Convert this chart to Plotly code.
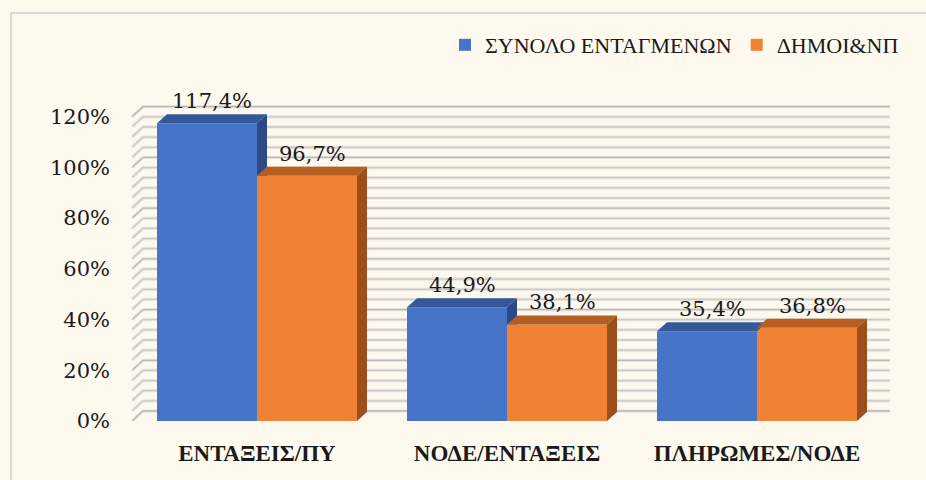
import plotly.graph_objects as go

# --- data -------------------------------------------------------------
categories = ["ΕΝΤΑΞΕΙΣ/ΠΥ", "ΝΟΔΕ/ΕΝΤΑΞΕΙΣ", "ΠΛΗΡΩΜΕΣ/ΝΟΔΕ"]
series_names = ["ΣΥΝΟΛΟ ΕΝΤΑΓΜΕΝΩΝ", "ΔΗΜΟΙ&ΝΠ"]
total_integrated = [117.4, 44.9, 35.4]
municipalities = [96.7, 38.1, 36.8]
y_tickvals = [0, 20, 40, 60, 80, 100, 120]
y_ticktext = ["0%", "20%", "40%", "60%", "80%", "100%", "120%"]
minor_step = 4

series_values = [total_integrated, municipalities]

# --- styling ----------------------------------------------------------
front_colors = ["#4674C7", "#EF8235"]
top_colors = ["#345898", "#B65D22"]
side_colors = ["#2B4A86", "#9A4F1D"]
bg = "#FDF9EE"
serif = "Liberation Serif"
num_font = "DejaVu Serif"

BAR_W = 0.4          # width of each column (category units)
DX, DY = 0.04, 3.55  # column depth projection (x units, y units)
WX, WY = 0.044, 3.94  # back-wall offset for the gridlines
X_LEFT, X_WALL_END = -0.5, 2.532

fig = go.Figure()

# front faces of the columns
for k, (name, vals) in enumerate(zip(series_names, series_values)):
    fig.add_trace(go.Bar(
        x=list(range(len(categories))), y=vals, name=name,
        marker=dict(color=front_colors[k], line=dict(width=0)),
        hoverinfo="skip",
    ))

# top and side faces, drawn series by series so the right-hand column
# of each pair overlaps the one on its left
for k, vals in enumerate(series_values):
    for i, v in enumerate(vals):
        x0 = i - BAR_W + BAR_W * k
        x1 = x0 + BAR_W
        fig.add_trace(go.Scatter(
            x=[x0, x1, x1 + DX, x0 + DX, x0], y=[v, v, v + DY, v + DY, v],
            fill="toself", fillcolor=top_colors[k], mode="none",
            showlegend=False, hoverinfo="skip"))
        if k + 1 < len(series_values):
            lo = series_values[k + 1][i]
            if lo >= v:
                continue
            sx = [x1, x1 + DX, x1 + DX, x1, x1]
            sy = [lo, lo, v + DY, v, lo]
        else:
            sx = [x1, x1 + DX, x1 + DX, x1, x1]
            sy = [0, DY, v + DY, v, 0]
        fig.add_trace(go.Scatter(
            x=sx, y=sy, fill="toself", fillcolor=side_colors[k], mode="none",
            showlegend=False, hoverinfo="skip"))

# value labels above each column
for k, vals in enumerate(series_values):
    for i, v in enumerate(vals):
        xc = i - BAR_W / 2 + BAR_W * k
        fig.add_annotation(
            x=xc + DX / 2, y=v + DY, text=f"{v:.1f}".replace(".", ",") + "%",
            showarrow=False, yanchor="bottom", yshift=-1,
            font=dict(family=num_font, size=21, color="#1A1A1A"))

# back-wall gridlines with the short stub on the side wall
shapes = []
n_lines = int(y_tickvals[-1] / minor_step) + 1
for j in range(n_lines):
    g = j * minor_step
    major = g in y_tickvals
    path = (f"M {X_LEFT},{g} L {X_LEFT + WX},{g + WY} "
            f"L {X_WALL_END},{g + WY}")
    shapes.append(dict(type="path", path=path, xref="x", yref="y",
                       layer="below",
                       line=dict(color="#E6E4DD", width=3.2)))
    shapes.append(dict(type="path", path=path, xref="x", yref="y",
                       layer="below",
                       line=dict(color="#B9B9B9" if major else "#C9C9C9",
                                 width=1.3)))

# chart-area border
PL, PW, PB, PH = 132, 775, 59, 355
def px_to_paper_x(px):
    return (px - PL) / PW
def px_to_paper_y(py):
    return (480 - PB - py) / PH
shapes.append(dict(type="rect", xref="paper", yref="paper",
                   x0=px_to_paper_x(11), x1=px_to_paper_x(940),
                   y0=px_to_paper_y(500), y1=px_to_paper_y(13),
                   line=dict(color="#DADADA", width=2), layer="below"))

fig.update_layout(
    width=926, height=480,
    margin=dict(l=PL, r=926 - PL - PW, t=480 - PB - PH, b=PB,
                autoexpand=False),
    paper_bgcolor=bg, plot_bgcolor=bg,
    barmode="group", bargap=0.2, bargroupgap=0,
    shapes=shapes,
    showlegend=True,
    legend=dict(orientation="h", x=px_to_paper_x(445), xanchor="left",
                y=px_to_paper_y(45), yanchor="middle",
                font=dict(family=serif, size=22, color="#1A1A1A"),
                bgcolor="rgba(0,0,0,0)"),
    xaxis=dict(range=[X_LEFT, 2.6], tickmode="array",
               tickvals=list(range(len(categories))), ticktext=categories,
               showgrid=False, zeroline=False, showline=False,
               ticks="", ticklabelstandoff=16,
               tickfont=dict(family=serif, size=23, color="#1A1A1A",
                             weight="bold")),
    yaxis=dict(range=[0, 140], tickmode="array", tickvals=y_tickvals,
               ticktext=y_ticktext, showgrid=False, zeroline=False,
               showline=False, ticks="", ticklabelstandoff=21,
               tickfont=dict(family=num_font, size=21, color="#1A1A1A")),
)

fig.write_html("out.html")
